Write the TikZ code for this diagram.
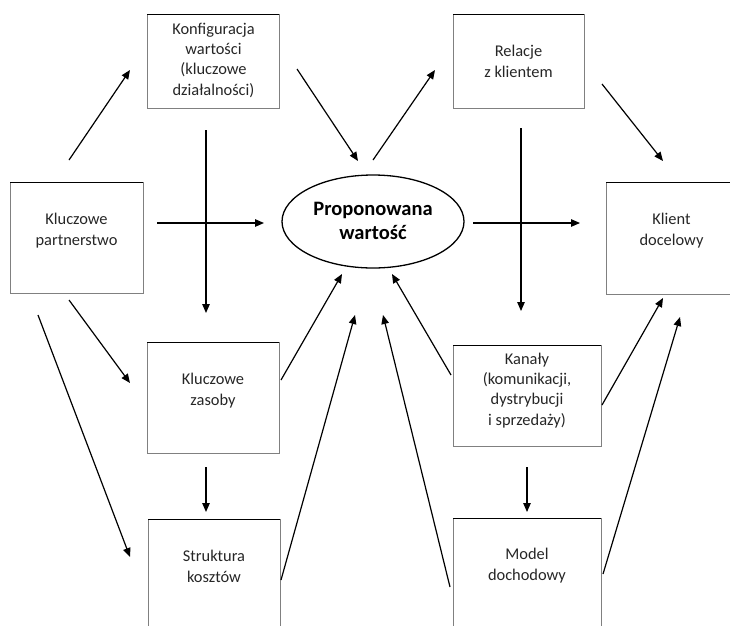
\documentclass[tikz,border=0pt]{standalone}
\usepackage{fontspec}
\setmainfont{Carlito}
\usetikzlibrary{arrows.meta,shapes.geometric}

\tikzset{
  box/.style={draw=black!50, line width=0.7pt, inner sep=0pt, outer sep=0pt,
              anchor=north west, rectangle},
  topedge/.style={draw=black, line width=0.9pt},
  lbl/.style={font=\fontsize{16.4}{20.3}\selectfont, align=center, anchor=base,
              inner sep=0pt, text=black!85},
  oval/.style={draw=black, line width=1.3pt, ellipse, inner sep=0pt,
               minimum width=182pt, minimum height=93pt},
  ovaltext/.style={font=\fontsize{20.5}{24}\selectfont\bfseries, align=center,
                   anchor=base, inner sep=0pt},
  arr/.style={-{Triangle[length=9pt,width=7.5pt]}, line width=1.2pt},
}

\begin{document}
\begin{tikzpicture}[x=1pt, y=-1pt]
  \useasboundingbox (0,0) rectangle (730,625);
  \clip (0,0) rectangle (730,625);

  % building blocks of the business model
  \node[box, minimum width=132pt, minimum height=94pt]  (kw) at (147,14)  {};
  \node[box, minimum width=131pt, minimum height=94pt]  (rk) at (453,14)  {};
  \node[box, minimum width=133pt, minimum height=111pt] (kp) at (10,182)  {};
  \node[box, minimum width=132pt, minimum height=112pt] (kd) at (606,182) {};
  \node[box, minimum width=132pt, minimum height=111pt] (kz) at (147,342) {};
  \node[box, minimum width=148pt, minimum height=101pt] (kn) at (453,345) {};
  \node[box, minimum width=132pt, minimum height=112pt] (sk) at (148,519) {};
  \node[box, minimum width=148pt, minimum height=112pt] (md) at (453,518) {};

  \foreach \b in {kw,rk,kp,kd,kz,kn,sk,md}
    \draw[topedge] (\b.north west) -- (\b.north east);

  % labels
  \node[lbl] (tkw) at (213.5,95) {Konfiguracja\\wartości\\(kluczowe\\działalności)};
  \node[lbl] (trk) at (518.5,77) {Relacje\\z klientem};
  \node[lbl] (tkp) at (76.5,245) {Kluczowe\\partnerstwo};
  \node[lbl] (tkd) at (671.5,245) {Klient\\docelowy};
  \node[lbl] (tkz) at (213,405) {Kluczowe\\zasoby};
  \node[lbl] (tkn) at (527,425) {Kanały\\(komunikacji,\\dystrybucji\\i sprzedaży)};
  \node[lbl] (tsk) at (214,582) {Struktura\\kosztów};
  \node[lbl] (tmd) at (527,580) {Model\\dochodowy};

  % value proposition
  \node[oval] (pw) at (373,221.5) {};
  \node[ovaltext] (tpw) at (373,239) {Proponowana\\wartość};

  % connector end points
  \coordinate (a1s) at (69,160);   \coordinate (a1e) at (130,70);
  \coordinate (a2s) at (297,69);   \coordinate (a2e) at (358,161);
  \coordinate (a3s) at (373,160);  \coordinate (a3e) at (435,70);
  \coordinate (a4s) at (602,84);   \coordinate (a4e) at (663,161);
  \coordinate (a5s) at (157,223);  \coordinate (a5e) at (264,223);
  \coordinate (a6s) at (206,130);  \coordinate (a6e) at (206,313);
  \coordinate (a7s) at (473,223);  \coordinate (a7e) at (580,223);
  \coordinate (a8s) at (521,128);  \coordinate (a8e) at (521,311);
  \coordinate (a9s) at (69,300);   \coordinate (a9e) at (130,383);
  \coordinate (b1s) at (38,315);   \coordinate (b1e) at (130,557);
  \coordinate (b2s) at (281,380);  \coordinate (b2e) at (342,274);
  \coordinate (b3s) at (281,580);  \coordinate (b3e) at (355,315);
  \coordinate (b4s) at (206,467);  \coordinate (b4e) at (206,512);
  \coordinate (b5s) at (451,375);  \coordinate (b5e) at (392,274);
  \coordinate (b6s) at (450,587);  \coordinate (b6e) at (383,315);
  \coordinate (b7s) at (602,405);  \coordinate (b7e) at (663,298);
  \coordinate (b8s) at (603,574);  \coordinate (b8e) at (680,317);
  \coordinate (b9s) at (527,467);  \coordinate (b9e) at (527,512);

  % connectors
  \foreach \c in {a1,a2,a3,a4,a5,a6,a7,a8,a9,b1,b2,b3,b4,b5,b6,b7,b8,b9}
    \draw[arr] (\c s) -- (\c e);
\end{tikzpicture}
\end{document}
